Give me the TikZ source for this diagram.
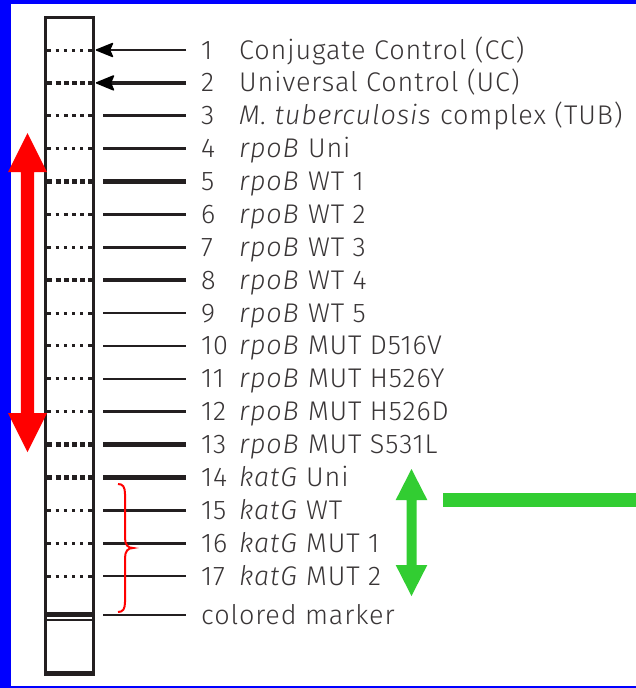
\documentclass[tikz,border=0pt]{standalone}
\usepackage{fontspec}
\IfFontExistsTF{Fira Sans Light}
  {\setmainfont{Fira Sans Light}[ItalicFont={Fira Sans Light Italic}, LetterSpace=3.3]}
  {\setmainfont{Fira Sans}[LetterSpace=3.3]}
\definecolor{ink}{HTML}{231F20}
\definecolor{frameblue}{RGB}{0,0,255}
\definecolor{arrowred}{RGB}{255,0,0}
\definecolor{arrowgreen}{RGB}{50,205,50}
\tikzset{
  lbl/.style={anchor=base west, inner sep=0pt, text=ink!90,
    font=\fontsize{27}{32}\selectfont},
  thinrow/.style={line width=2.6pt},
  medrow/.style={line width=3.2pt},
  thickrow/.style={line width=4.6pt},
  thindots/.style={line width=3pt, dash pattern=on 3.2pt off 5pt},
  meddots/.style={line width=3.4pt, dash pattern=on 3.8pt off 4.4pt},
  thickdots/.style={line width=4.6pt, dash pattern=on 5pt off 3.2pt},
  headfill/.style={fill=black, draw=black, line width=1.4pt, line join=round},
}
\begin{document}
\begin{tikzpicture}[x=1pt,y=-1pt]
  % frame
  \fill[frameblue] (0,0) rectangle (636,688);
  \fill[white] (11,4.3) rectangle (636,686.3);
  \useasboundingbox (0,0) rectangle (636,688);

  % strip
  \draw[ink, line width=3pt] (45.7,17) rectangle (93,674);
  \draw[ink, line width=5pt] (44.2,673) -- (94.5,673);
  \fill[ink] (46.7,611.7) rectangle (92,617.3);
  \draw[ink, line width=2.2pt] (46.7,620) -- (92,620);

  % rows: number / weight / text
  \foreach \i/\w/\txt in {
      1/thin/{Conjugate Control (CC)},
      2/thick/{Universal Control (UC)},
      3/med/{\textit{M. tuberculosis} complex (TUB)},
      4/thin/{\textit{rpoB} Uni},
      5/thick/{\textit{rpoB} WT 1},
      6/med/{\textit{rpoB} WT 2},
      7/thin/{\textit{rpoB} WT 3},
      8/thick/{\textit{rpoB} WT 4},
      9/thin/{\textit{rpoB} WT 5},
      10/thin/{\textit{rpoB} MUT D516V},
      11/thin/{\textit{rpoB} MUT H526Y},
      12/thin/{\textit{rpoB} MUT H526D},
      13/thick/{\textit{rpoB} MUT S531L},
      14/thick/{\textit{katG} Uni},
      15/thin/{\textit{katG} WT},
      16/thin/{\textit{katG} MUT 1},
      17/thin/{\textit{katG} MUT 2}} {
    \pgfmathsetmacro\yy{50+(\i-1)*32.88}
    \draw[ink, \w dots] (47.4,\yy) -- (91.5,\yy);
    \node[lbl] (n\i) at (201,\yy+9) {\i};
    \node[lbl] (t\i) at (239,\yy+9) {\txt};
  }
  % line ends of each row
  \foreach \i in {1,...,17} {
    \pgfmathsetmacro\yy{50+(\i-1)*32.88}
    \coordinate (a\i) at (103,\yy);
    \coordinate (b\i) at (186,\yy);
    \coordinate (neck\i) at (110,\yy);
  }
  \foreach \i/\w in {3/med,4/thin,5/thick,6/med,7/thin,8/thick,9/thin,10/thin,
      11/thin,12/thin,13/thick,14/thick,15/thin,16/thin,17/thin}
    \draw[ink, \w row] (a\i) -- (b\i);

  % pointers for the two control lines, with barbed heads
  \draw[ink, thinrow] (b1) -- (neck1);
  \path[headfill] (96.5,50) -- (112.5,43.5) -- (109.5,50) -- (112.5,56.5) -- cycle;
  \draw[ink, thickrow] (b2) -- (neck2);
  \path[headfill] (96.5,82.88) -- (113.5,75.9) -- (110.5,82.88) -- (113.5,89.9) -- cycle;

  % colored marker
  \coordinate (am) at (103,615);
  \coordinate (bm) at (186,615);
  \draw[ink, thinrow] (am) -- (bm);
  \node[lbl] (nm) at (201,615+9) {colored marker};

  % red brace grouping the katG rows
  \draw[arrowred, line width=2pt]
    (118,484) .. controls (123,484) and (125,487) .. (125,494)
    -- (125,538) .. controls (125,545) and (128,548) .. (133,548)
    .. controls (128,548) and (125,551) .. (125,558)
    -- (125,602) .. controls (125,609) and (123,612) .. (118,612);

  % red double arrow (rpoB block)
  \fill[arrowred] (27.5,133) -- (47,172) -- (34.2,172) -- (34.2,413) -- (47,413)
    -- (27.5,452) -- (8,413) -- (20.8,413) -- (20.8,172) -- (8,172) -- cycle;

  % green double arrow (katG block)
  \fill[arrowgreen] (411.5,469) -- (427.3,500) -- (416.5,500) -- (416.5,565)
    -- (427.3,565) -- (411.5,596) -- (395.7,565) -- (406.5,565) -- (406.5,500)
    -- (395.7,500) -- cycle;
  \fill[arrowgreen] (443,493.3) rectangle (636,506.7);
\end{tikzpicture}
\end{document}
